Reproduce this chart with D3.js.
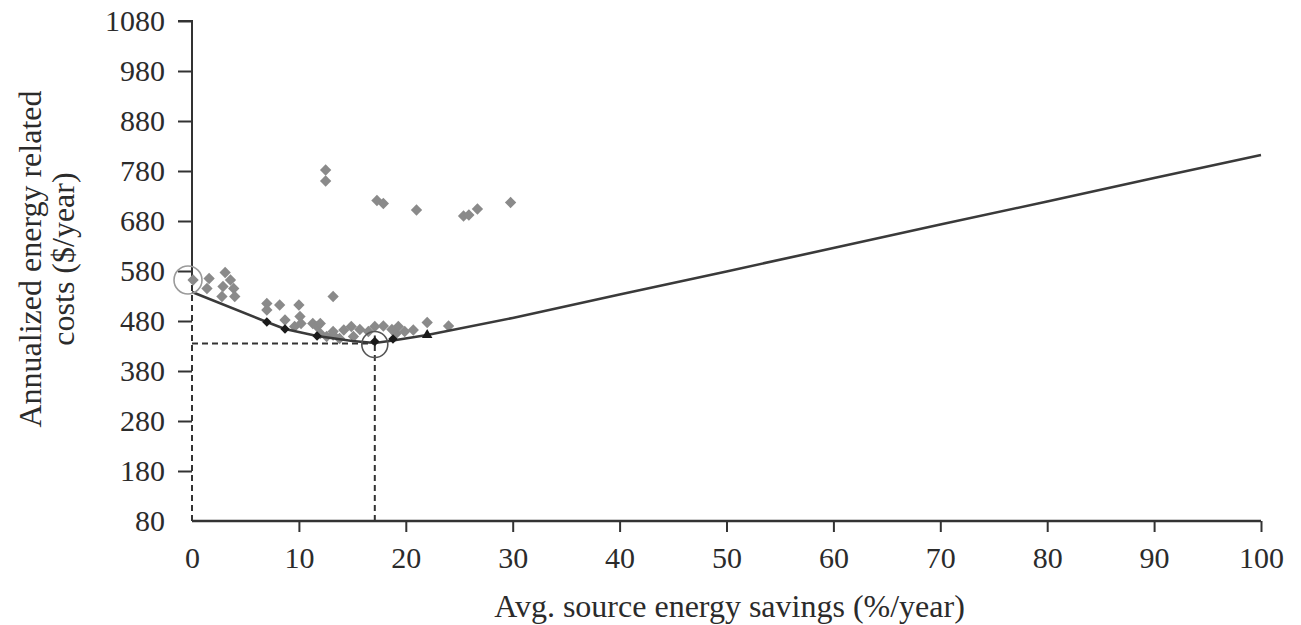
<!DOCTYPE html>
<html>
<head>
<meta charset="utf-8">
<script src="https://cdn.jsdelivr.net/npm/d3@7"></script>
<style>
  html, body { margin: 0; padding: 0; background: #fff; }
  svg { display: block; }
  text { font-family: "Liberation Serif", "DejaVu Serif", serif; fill: #2b2b2b; }
</style>
</head>
<body>
<svg id="chart" width="1301" height="625"></svg>
<script>
// Axis ticks
const xTicks = [0, 10, 20, 30, 40, 50, 60, 70, 80, 90, 100];
const yTicks = [80, 180, 280, 380, 480, 580, 680, 780, 880, 980, 1080];

// Simulated design packages: savings (%/year) and annualized cost ($/year)
const savingsPct = [
  0.1, 1.4, 1.6, 2.8, 2.9, 3.1, 3.6, 3.9, 4.0,
  7.0, 7.0, 8.2, 8.7, 9.6, 10.0, 10.1, 10.2, 11.3, 11.7, 12.0, 13.2, 13.2,
  12.0, 12.6, 13.2, 13.8, 14.2, 14.9, 15.1, 15.7, 16.5, 17.1, 17.9, 18.7, 19.1, 19.3, 19.9, 20.7, 22.0, 24.0,
  12.5, 12.5, 17.3, 17.9, 21.0, 25.4, 25.9, 26.7, 29.8
];
const annualCost = [
  562, 545, 565, 529, 549, 577, 562, 545, 529,
  515, 502, 512, 482, 469, 512, 489, 475, 475, 469, 455, 529, 452,
  475, 449, 459, 445, 462, 469, 449, 463, 459, 469, 470, 463, 455, 469, 459, 462, 477, 470,
  782, 760, 721, 715, 702, 690, 692, 704, 717
];

// Least-cost curve
const curveX = [0, 7.0, 8.7, 11.7, 15.0, 17.1, 18.8, 22.0, 30, 40, 50, 60, 70, 80, 90, 100];
const curveY = [538, 478, 464, 450, 440, 436, 441, 452, 486, 533, 579, 626, 673, 719, 766, 812];

// Packages on the least-cost curve
const curveMarkX = [7.0, 8.7, 11.7, 17.1, 18.8];
const curveMarkY = [478, 464, 450, 439, 444];
const curveTriX = [22.0];
const curveTriY = [452];

// Baseline and optimum
const baseline = [0, 560];
const optimum = [17.1, 435];

const svg = d3.select("#chart");
const x = d3.scaleLinear().domain([0, 100]).range([192, 1261]);
const y = d3.scaleLinear().domain([80, 1080]).range([521, 21]);

const axisColor = "#333";
const tickFont = "30px";
const titleFont = "32px";

// Y axis: ticks and labels
const yAxis = d3.axisLeft(y).tickValues(yTicks.slice(1)).tickSize(14).tickPadding(13).tickFormat(d3.format("d"));
const gy = svg.append("g").attr("transform", `translate(${x(0)},0)`).call(yAxis);
gy.select(".domain").remove();
gy.selectAll(".tick line").attr("stroke", axisColor).attr("stroke-width", 2);
gy.selectAll(".tick text").style("font-size", tickFont).attr("fill", "#2b2b2b");
// label for the bottom value (no tick mark there)
svg.append("text").attr("x", x(0) - 27).attr("y", y(80)).attr("dy", "0.32em")
  .attr("text-anchor", "end").style("font-size", tickFont).text(yTicks[0]);

// X axis: ticks and labels
const xAxis = d3.axisBottom(x).tickValues(xTicks).tickSize(11).tickPadding(15).tickFormat(d3.format("d"));
const gx = svg.append("g").attr("transform", `translate(0,${y(80)})`).call(xAxis);
gx.select(".domain").remove();
gx.selectAll(".tick line").attr("stroke", axisColor).attr("stroke-width", 2)
  .attr("opacity", d => d === 0 ? 0 : 1);
gx.selectAll(".tick text").style("font-size", tickFont).attr("fill", "#2b2b2b");

// Axis lines: solid y axis above the baseline marker, solid x axis
svg.append("path")
  .attr("d", `M${x(0) - 14},${y(1080)}H${x(0)}V${y(baseline[1])}`)
  .attr("fill", "none").attr("stroke", axisColor).attr("stroke-width", 2);
svg.append("path")
  .attr("d", `M${x(0)},${y(80)}H${x(100)}`)
  .attr("fill", "none").attr("stroke", axisColor).attr("stroke-width", 2.5);

// Dashed guides: baseline drop and optimum crosshair
const dash = "6,4";
svg.append("line")
  .attr("x1", x(0)).attr("x2", x(0)).attr("y1", y(80)).attr("y2", y(baseline[1]))
  .attr("stroke", axisColor).attr("stroke-width", 2).attr("stroke-dasharray", dash);
svg.append("line")
  .attr("x1", x(0)).attr("x2", x(optimum[0])).attr("y1", y(optimum[1])).attr("y2", y(optimum[1]))
  .attr("stroke", axisColor).attr("stroke-width", 2).attr("stroke-dasharray", dash);
svg.append("line")
  .attr("x1", x(optimum[0])).attr("x2", x(optimum[0])).attr("y1", y(80)).attr("y2", y(optimum[1]) - 8)
  .attr("stroke", axisColor).attr("stroke-width", 2).attr("stroke-dasharray", dash);

// Scatter of all packages (rotated squares)
const square = d3.symbol().type(d3.symbolSquare).size(64);
svg.append("g").selectAll("path")
  .data(savingsPct.map((s, i) => [s, annualCost[i]]))
  .join("path")
  .attr("d", square)
  .attr("transform", d => `translate(${x(d[0])},${y(d[1])}) rotate(45)`)
  .attr("fill", "#8a8a8a");

// Least-cost curve
const line = d3.line().x(d => x(d[0])).y(d => y(d[1]));
svg.append("path")
  .datum(curveX.map((v, i) => [v, curveY[i]]))
  .attr("d", line)
  .attr("fill", "none").attr("stroke", "#3a3a3a").attr("stroke-width", 2.6);

const darkSquare = d3.symbol().type(d3.symbolSquare).size(44);
svg.append("g").selectAll("path")
  .data(curveMarkX.map((v, i) => [v, curveMarkY[i]]))
  .join("path")
  .attr("d", darkSquare)
  .attr("transform", d => `translate(${x(d[0])},${y(d[1])}) rotate(45)`)
  .attr("fill", "#1a1a1a");
const tri = d3.symbol().type(d3.symbolTriangle).size(48);
svg.append("g").selectAll("path")
  .data(curveTriX.map((v, i) => [v, curveTriY[i]]))
  .join("path")
  .attr("d", tri)
  .attr("transform", d => `translate(${x(d[0])},${y(d[1])})`)
  .attr("fill", "#1a1a1a");

// Circles marking baseline and optimum
svg.append("circle").attr("cx", x(baseline[0]) - 4).attr("cy", y(baseline[1]) - 1).attr("r", 14)
  .attr("fill", "none").attr("stroke", "#9a9a9a").attr("stroke-width", 1.6);
svg.append("circle").attr("cx", x(optimum[0])).attr("cy", y(optimum[1]) + 1).attr("r", 13)
  .attr("fill", "none").attr("stroke", "#555").attr("stroke-width", 1.6);

// Axis titles
svg.append("text").attr("x", (x(0) + x(100)) / 2 + 3).attr("y", 617)
  .attr("text-anchor", "middle").style("font-size", titleFont)
  .text("Avg. source energy savings (%/year)");
const yt = svg.append("text").attr("transform", "translate(41,259) rotate(-90)")
  .attr("text-anchor", "middle").style("font-size", titleFont);
yt.append("tspan").attr("x", 0).attr("y", 0).text("Annualized energy related");
yt.append("tspan").attr("x", 0).attr("y", 33).text("costs ($/year)");
</script>
</body>
</html>
